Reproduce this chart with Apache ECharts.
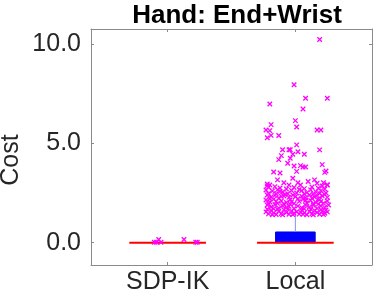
<!DOCTYPE html>
<html><head><meta charset="utf-8">
<script src="https://cdn.jsdelivr.net/npm/echarts@6/dist/echarts.min.js"></script>
<style>html,body{margin:0;padding:0;background:#fff}#c{width:374px;height:299px}</style>
</head><body><div id="c"></div>
<script>
var titleText = 'Hand: End+Wrist';
var categories = ['SDP-IK', 'Local'];
var catPos = [1, 2];
var yTicks = [0, 5, 10];
// box stats per category: [whiskerLow, q1, median, q3, whiskerHigh]
var boxSdp = [0, 0, 0, 0, 0];
var boxLocal = [0, 0, 0, 0.54, 1.39];
// outliers (x with jitter, y)
var sdpOutliers = [[0.896,0.02],[0.913,0.02],[0.930,0.16],[0.948,0.02],[1.128,0.16],[1.220,0.02],[1.232,0.02]];
var localOutliers = [
[2.19,10.22],[1.99,7.95],[2.08,7.27],[2.25,7.27],[1.80,6.98],[2.06,6.73],[2.00,6.14],[1.81,5.94],[2.01,5.82],[1.77,5.67],[1.80,5.64],[2.17,5.67],[2.20,5.67],[1.81,5.40],[1.87,5.39],[1.78,5.28],[2.01,4.92],[1.90,4.68],[1.95,4.68],[1.96,4.68],[2.02,4.58],[2.19,4.67],[2.07,4.45],[1.89,4.38],[1.98,4.45],[1.96,4.25],[1.87,4.18],[1.94,4.00],[2.21,3.93],[1.99,3.86],[2.04,3.88],[2.06,3.81],[2.08,3.81],[2.24,3.61],[2.23,3.54],[1.83,3.56],[1.88,3.51],[2.01,3.59],[1.98,3.24],
[1.86,3.16],[1.91,3.02],[2.02,3.02],[2.15,3.16],[2.22,3.02],[2.17,2.99],[1.78,2.95],[2.10,3.08],[2.25,2.92],
[1.80,2.90],[1.78,2.86],[1.79,2.79],[1.95,2.90],[2.04,2.90],[2.21,2.85],[2.25,2.90],[1.84,2.82],[1.88,2.75],[1.99,2.78],[2.07,2.72],[2.13,2.80],[2.18,2.74],[1.93,2.70],[2.23,2.70],
[1.77,2.65],[1.82,2.60],[1.86,2.66],[1.90,2.55],[1.97,2.63],[2.01,2.50],[2.05,2.62],[2.09,2.52],[2.12,2.66],[2.16,2.57],[2.20,2.62],[2.24,2.50],[1.79,2.48],[1.85,2.46],[1.94,2.46],[2.03,2.68],[2.14,2.46],[2.19,2.48],[1.88,2.58],[2.07,2.45],
[1.78,2.40],[1.81,2.30],[1.84,2.38],[1.87,2.25],[1.91,2.35],[1.95,2.28],[1.98,2.40],[2.02,2.22],[2.05,2.34],[2.08,2.26],[2.11,2.40],[2.15,2.30],[2.18,2.22],[2.21,2.36],[2.25,2.28],[1.80,2.21],[1.92,2.43],[2.00,2.31],[2.13,2.24],[2.23,2.42],[1.89,2.33],[2.17,2.38],
[1.77,2.15],[1.80,2.05],[1.83,2.18],[1.86,1.98],[1.89,2.10],[1.93,2.02],[1.96,2.16],[1.99,1.97],[2.03,2.08],[2.06,2.19],[2.09,2.00],[2.12,2.12],[2.16,2.03],[2.19,2.16],[2.22,1.99],[2.25,2.10],[1.85,2.08],[1.97,2.06],[2.08,2.14],[2.14,1.96],[2.20,2.07],[1.79,1.96],
[1.78,1.90],[1.81,1.80],[1.84,1.92],[1.87,1.74],[1.90,1.86],[1.93,1.78],[1.96,1.93],[1.99,1.72],[2.02,1.84],[2.05,1.76],[2.08,1.90],[2.11,1.80],[2.14,1.88],[2.17,1.73],[2.20,1.85],[2.23,1.78],[2.26,1.90],[1.83,1.71],[1.95,1.83],[2.07,1.71],[2.18,1.94],[1.91,1.95],
[1.77,1.55],[1.79,1.45],[1.81,1.62],[1.83,1.50],[1.85,1.42],[1.87,1.58],[1.89,1.47],[1.91,1.66],[1.93,1.52],[1.95,1.43],[1.97,1.60],[1.99,1.48],[2.01,1.56],[2.03,1.44],[2.05,1.64],[2.07,1.50],[2.09,1.41],[2.11,1.57],[2.13,1.46],[2.15,1.62],[2.17,1.52],[2.19,1.43],[2.21,1.58],[2.23,1.48],[2.25,1.55],[1.78,1.68],[1.86,1.68],[1.94,1.69],[2.04,1.54],[2.12,1.68],[2.20,1.66],[1.82,1.41],[1.90,1.41],[1.98,1.42],[2.06,1.43],[2.14,1.41],[2.22,1.42],[2.24,1.65]
];

var boxes = [[catPos[0]].concat(boxSdp), [catPos[1]].concat(boxLocal)];
var FONT = '"Liberation Sans", Arial, Helvetica, sans-serif';
var AX = '#8a8a8a', TXT = '#262626';
var chart = echarts.init(document.getElementById('c'), null, {renderer: 'canvas'});
var xMin = 0.4, xMax = 2.6, yMin = -1.12, yMax = 10.75;
var xSymbol = 'path://M0,0L10,10M10,0L0,10';
function renderBox(params, api) {
  var x = api.value(0);
  var wl = api.value(1), q1 = api.value(2), med = api.value(3), q3 = api.value(4), wh = api.value(5);
  var children = [];
  var bw = 0.155, mw = 0.3;
  if (q3 > q1) {
    var a = api.coord([x - bw, q3]), b = api.coord([x + bw, q1]);
    children.push({type:'rect', shape:{x:a[0], y:a[1], width:b[0]-a[0], height:b[1]-a[1]}, style:{fill:'#0000ff', stroke:'#0000e0', lineWidth:1}});
  }
  if (wh > q3) {
    var p1 = api.coord([x, q3]), p2 = api.coord([x, wh]);
    children.push({type:'line', shape:{x1:p1[0], y1:p1[1], x2:p2[0], y2:p2[1]}, style:{stroke:'#8090ff', lineWidth:1}});
  }
  if (wl < q1) {
    var p3 = api.coord([x, q1]), p4 = api.coord([x, wl]);
    children.push({type:'line', shape:{x1:p3[0], y1:p3[1], x2:p4[0], y2:p4[1]}, style:{stroke:'#8090ff', lineWidth:1}});
  }
  var m1 = api.coord([x - mw, med]), m2 = api.coord([x + mw, med]);
  children.push({type:'line', shape:{x1:m1[0], y1:m1[1], x2:m2[0], y2:m2[1]}, style:{stroke:'#ff0000', lineWidth:2}});
  return {type:'group', children: children};
}
chart.setOption({
  animation: false,
  title: {text: titleText, left: 232, textAlign: 'center', top: -2,
    textStyle: {fontFamily: FONT, fontSize: 26, fontWeight: 'bold', color: '#000'}},
  grid: {left: 91, right: 2, top: 29, bottom: 34, containLabel: false, outerBoundsMode: 'none'},
  xAxis: [{
    type: 'value', min: xMin, max: xMax, position: 'bottom',
    axisLine: {show: true, onZero: false, lineStyle: {color: AX, width: 1}},
    axisTick: {show: true, inside: true, length: 3, customValues: catPos, lineStyle: {color: AX}},
    axisLabel: {show: true, customValues: catPos, margin: 5, fontFamily: FONT, fontSize: 25, color: TXT,
      formatter: function (v) { var i = catPos.indexOf(Math.round(v)); return i >= 0 ? categories[i] : ''; }},
    splitLine: {show: false}
  }, {
    type: 'value', min: xMin, max: xMax, position: 'top',
    axisLine: {show: true, onZero: false, lineStyle: {color: AX, width: 1}},
    axisTick: {show: true, inside: true, length: 3, customValues: catPos, lineStyle: {color: AX}},
    axisLabel: {show: false}, splitLine: {show: false}
  }],
  yAxis: [{
    type: 'value', min: yMin, max: yMax, position: 'left',
    name: 'Cost', nameLocation: 'middle', nameGap: 67, nameRotate: 90, nameMoveOverlap: false,
    nameTextStyle: {fontFamily: FONT, fontSize: 25, color: TXT, padding: [0, 26, 0, 0]},
    axisLine: {show: true, onZero: false, lineStyle: {color: AX, width: 1}},
    axisTick: {show: true, inside: true, length: 3, customValues: yTicks, lineStyle: {color: AX}},
    axisLabel: {show: true, customValues: yTicks, margin: 10, fontFamily: FONT, fontSize: 25, color: TXT,
      formatter: function (v) { return v.toFixed(1); }},
    splitLine: {show: false}
  }, {
    type: 'value', min: yMin, max: yMax, position: 'right',
    axisLine: {show: true, onZero: false, lineStyle: {color: AX, width: 1}},
    axisTick: {show: true, inside: true, length: 3, customValues: yTicks, lineStyle: {color: AX}},
    axisLabel: {show: false}, splitLine: {show: false}
  }],
  series: [{
    type: 'custom', renderItem: renderBox, data: boxes, z: 2,
    encode: {x: 0, y: [1, 2, 3, 4, 5]}
  }, {
    type: 'scatter', data: sdpOutliers.concat(localOutliers), symbol: xSymbol, symbolSize: 4.5, z: 3,
    itemStyle: {color: 'rgba(0,0,0,0)', borderColor: '#ff00ff', borderWidth: 1.3, opacity: 1}
  }]
});
</script></body></html>
